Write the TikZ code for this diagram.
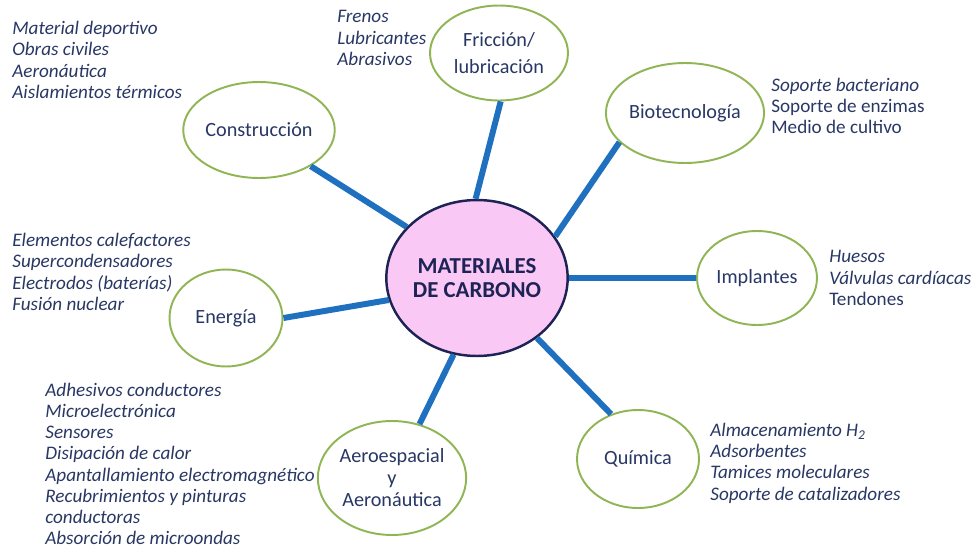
\documentclass[tikz,border=0pt]{standalone}
\usepackage{fontspec}
\setmainfont{Carlito}
\usepackage{xcolor}
\usetikzlibrary{shapes.geometric}

\definecolor{navy}{RGB}{40,55,100}
\definecolor{hubline}{RGB}{30,35,85}
\definecolor{leaf}{RGB}{143,181,84}
\definecolor{link}{RGB}{32,112,192}
\definecolor{pinkfill}{RGB}{250,200,245}

\begin{document}
\begin{tikzpicture}[x=0.02cm,y=-0.02cm,
        area/.style={ellipse,draw=leaf,line width=1.1pt,fill=white,inner sep=0pt,
            text=navy,align=center,font=\fontsize{11.5}{12.5}\selectfont},
        uses/.style={anchor=west,inner sep=0pt,text=navy,align=left,
            font=\fontsize{10.9}{12.1}\selectfont\itshape},
        spoke/.style={link,line width=3.4pt}]
            \useasboundingbox (0,0) rectangle (975,549);

            % centre
            \node (hub) at (477,278) [ellipse,draw=hubline,line width=1.4pt,fill=pinkfill,
                minimum width=3.56cm,minimum height=3.12cm,inner sep=0pt,align=center,
                text=hubline,font=\fontsize{13}{13.2}\selectfont\bfseries] {MATERIALES\\DE CARBONO};

            % fields
            \node (constr) at (259,130) [area,minimum width=2.96cm,minimum height=1.92cm] {Construcción};
            \node (fric) at (499,53) [area,minimum width=2.76cm,minimum height=1.9cm,
                font=\fontsize{11.5}{15}\selectfont] {Fricción/\\lubricación};
            \node (bio) at (685,113) [area,minimum width=3.08cm,minimum height=2.0cm] {Biotecnología};
            \node (impl) at (757,278) [area,minimum width=2.4cm,minimum height=1.88cm] {Implantes};
            \node (energ) at (226,318) [area,minimum width=2.26cm,minimum height=1.94cm] {Energía};
            \node (aero) at (392,478) [area,minimum width=2.84cm,minimum height=2.28cm] {Aeroespacial\\y\\Aeronáutica};
            \node (quim) at (638,459) [area,minimum width=2.44cm,minimum height=1.96cm] {Química};

            \draw[spoke] (hub.144) -- (constr.-35) (hub.91) -- (fric.-88) (hub.28) -- (bio.204)
                (hub.0) -- (impl.180) (hub.194) -- (energ.east) (hub.253) -- (aero.63)
                (hub.-45) -- (quim.121);

            % applications
            \node (constrlist) at (12,60) [uses] {Material deportivo\\Obras civiles\\Aeronáutica\\Aislamientos térmicos};
            \node (friclist) at (337,38) [uses] {Frenos\\Lubricantes\\Abrasivos};
            \node (biolist) at (771,106) [uses] {Soporte bacteriano\\\textup{Soporte de enzimas}\\\textup{Medio de cultivo}};
            \node (impllist) at (829,278) [uses] {Huesos\\Válvulas cardíacas\\\textup{Tendones}};
            \node (energlist) at (12,272) [uses] {Elementos calefactores\\Supercondensadores\\Electrodos (baterías)\\Fusión nuclear};
            \node (aerolist) at (45,464) [uses] {Adhesivos conductores\\Microelectrónica\\Sensores\\Disipación de calor\\Apantallamiento electromagnético\\Recubrimientos y pinturas\\conductoras\\Absorción de microondas};
            \node (quimlist) at (710,463) [uses] {Almacenamiento H\textsubscript{2}\\Adsorbentes\\Tamices moleculares\\Soporte de catalizadores};

        \end{tikzpicture}
\end{document}
